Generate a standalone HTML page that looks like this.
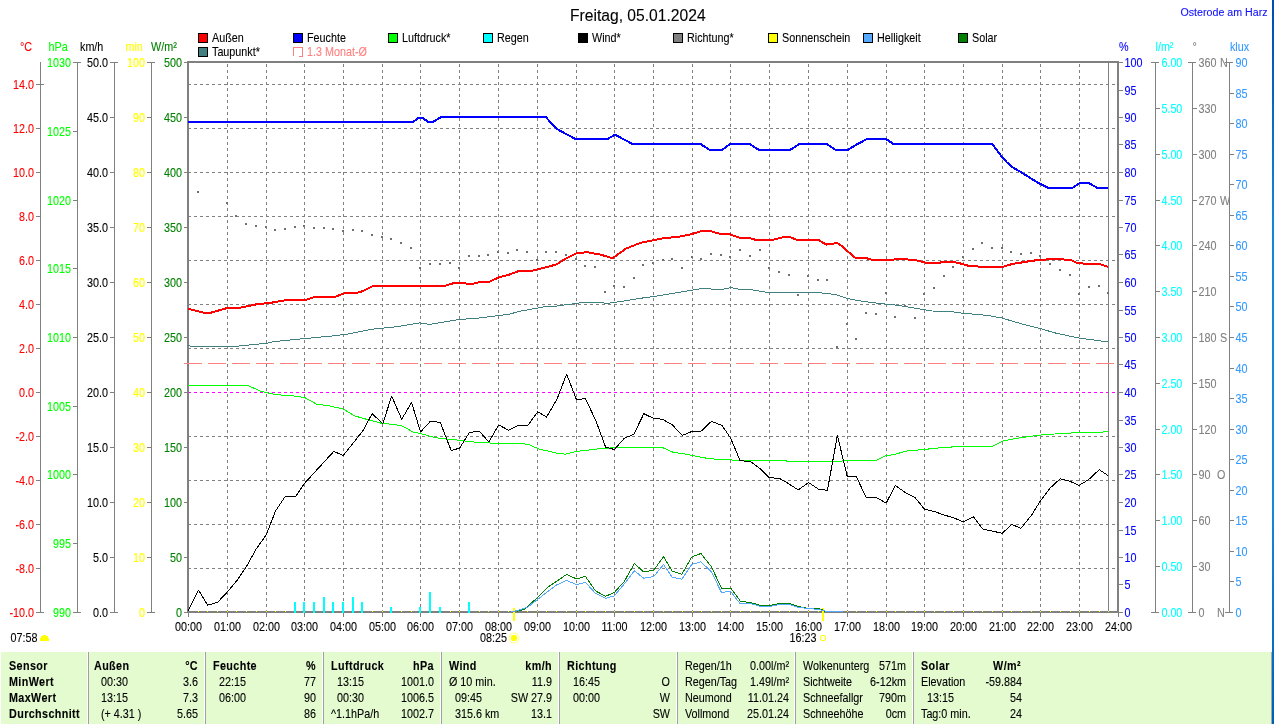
<!DOCTYPE html>
<html><head><meta charset="utf-8"><style>
html,body{margin:0;padding:0;background:#fff;width:1274px;height:724px;overflow:hidden}
svg{display:block;will-change:transform;font-family:"Liberation Sans",sans-serif}
</style></head><body>
<svg width="1274" height="724" viewBox="0 0 1274 724">
<rect width="1274" height="724" fill="#fff"/>
<text x="582.82" y="20.9" transform="scale(0.978,1)" font-size="16" fill="#000" stroke="#000" stroke-width="0.1">Freitag, 05.01.2024</text>
<text x="1217.01" y="15.6" transform="scale(0.97,1)" font-size="11" fill="#1010ff" stroke="#1010ff" stroke-width="0.1">Osterode am Harz</text>
<defs><linearGradient id="bb" x1="0" y1="0" x2="0" y2="1"><stop offset="0" stop-color="#004bb0"/><stop offset="0.3" stop-color="#1585d5"/><stop offset="0.7" stop-color="#1888d8"/><stop offset="1" stop-color="#005ebb"/></linearGradient></defs>
<rect x="1272" y="0" width="2" height="724" fill="url(#bb)"/>
<rect x="198" y="33" width="10" height="10" fill="#000"/>
<rect x="199" y="34" width="8" height="8" fill="#ff0000"/>
<text x="245.65" y="42" transform="scale(0.863,1)" font-size="12.5" fill="#000" stroke="#000" stroke-width="0.1">Außen</text>
<rect x="293" y="33" width="10" height="10" fill="#000"/>
<rect x="294" y="34" width="8" height="8" fill="#0000ff"/>
<text x="355.74" y="42" transform="scale(0.863,1)" font-size="12.5" fill="#000" stroke="#000" stroke-width="0.1">Feuchte</text>
<rect x="388" y="33" width="10" height="10" fill="#000"/>
<rect x="389" y="34" width="8" height="8" fill="#00ff00"/>
<text x="465.82" y="42" transform="scale(0.863,1)" font-size="12.5" fill="#000" stroke="#000" stroke-width="0.1">Luftdruck*</text>
<rect x="483" y="33" width="10" height="10" fill="#000"/>
<rect x="484" y="34" width="8" height="8" fill="#00ffff"/>
<text x="575.90" y="42" transform="scale(0.863,1)" font-size="12.5" fill="#000" stroke="#000" stroke-width="0.1">Regen</text>
<rect x="578" y="33" width="10" height="10" fill="#000"/>
<rect x="579" y="34" width="8" height="8" fill="#000000"/>
<text x="685.98" y="42" transform="scale(0.863,1)" font-size="12.5" fill="#000" stroke="#000" stroke-width="0.1">Wind*</text>
<rect x="673" y="33" width="10" height="10" fill="#000"/>
<rect x="674" y="34" width="8" height="8" fill="#808080"/>
<text x="796.06" y="42" transform="scale(0.863,1)" font-size="12.5" fill="#000" stroke="#000" stroke-width="0.1">Richtung*</text>
<rect x="768" y="33" width="10" height="10" fill="#000"/>
<rect x="769" y="34" width="8" height="8" fill="#ffff00"/>
<text x="906.14" y="42" transform="scale(0.863,1)" font-size="12.5" fill="#000" stroke="#000" stroke-width="0.1">Sonnenschein</text>
<rect x="863" y="33" width="10" height="10" fill="#000"/>
<rect x="864" y="34" width="8" height="8" fill="#55aaff"/>
<text x="1016.22" y="42" transform="scale(0.863,1)" font-size="12.5" fill="#000" stroke="#000" stroke-width="0.1">Helligkeit</text>
<rect x="958" y="33" width="10" height="10" fill="#000"/>
<rect x="959" y="34" width="8" height="8" fill="#008000"/>
<text x="1126.30" y="42" transform="scale(0.863,1)" font-size="12.5" fill="#000" stroke="#000" stroke-width="0.1">Solar</text>
<rect x="198" y="47" width="10" height="10" fill="#000"/>
<rect x="199" y="48" width="8" height="8" fill="#408080"/>
<text x="245.65" y="56" transform="scale(0.863,1)" font-size="12.5" fill="#000" stroke="#000" stroke-width="0.1">Taupunkt*</text>
<path d="M293.5 47 V56 M293 47.5 H303 M302.5 47 V57 M299 56.5 H303" fill="none" stroke="#ff8080" stroke-width="1" shape-rendering="crispEdges"/>
<text x="355.74" y="56" transform="scale(0.863,1)" font-size="12.5" fill="#ff8080" stroke="#ff8080" stroke-width="0.1">1.3 Monat-Ø</text>
<text x="23.17" y="51" transform="scale(0.863,1)" font-size="12.5" fill="#ff0000" stroke="#ff0000" stroke-width="0.1">°C</text>
<text x="56.20" y="51" transform="scale(0.863,1)" font-size="12.5" fill="#00ff00" stroke="#00ff00" stroke-width="0.1">hPa</text>
<text x="92.70" y="51" transform="scale(0.863,1)" font-size="12.5" fill="#000" stroke="#000" stroke-width="0.1">km/h</text>
<text x="145.42" y="51" transform="scale(0.863,1)" font-size="12.5" fill="#ffff00" stroke="#ffff00" stroke-width="0.1">min</text>
<text x="174.97" y="51" transform="scale(0.863,1)" font-size="12.5" fill="#008000" stroke="#008000" stroke-width="0.1">W/m²</text>
<text x="1296.64" y="51" transform="scale(0.863,1)" font-size="12.5" fill="#0000ff" stroke="#0000ff" stroke-width="0.1">%</text>
<text x="1338.93" y="51" transform="scale(0.863,1)" font-size="12.5" fill="#00ffff" stroke="#00ffff" stroke-width="0.1">l/m²</text>
<text x="1381.81" y="51" transform="scale(0.863,1)" font-size="12.5" fill="#808080" stroke="#808080" stroke-width="0.1">°</text>
<text x="1425.26" y="51" transform="scale(0.863,1)" font-size="12.5" fill="#3399ff" stroke="#3399ff" stroke-width="0.1">klux</text>
<rect x="40" y="62" width="1" height="551" fill="#808080"/>
<rect x="36" y="84" width="8" height="1" fill="#808080"/>
<text x="39.40" y="88.6" transform="scale(0.863,1)" font-size="12.5" fill="#ff0000" stroke="#ff0000" stroke-width="0.1" text-anchor="end">14.0</text>
<rect x="36" y="128" width="4" height="1" fill="#808080"/>
<text x="39.40" y="132.6" transform="scale(0.863,1)" font-size="12.5" fill="#ff0000" stroke="#ff0000" stroke-width="0.1" text-anchor="end">12.0</text>
<rect x="36" y="172" width="4" height="1" fill="#808080"/>
<text x="39.40" y="176.6" transform="scale(0.863,1)" font-size="12.5" fill="#ff0000" stroke="#ff0000" stroke-width="0.1" text-anchor="end">10.0</text>
<rect x="36" y="216" width="4" height="1" fill="#808080"/>
<text x="39.40" y="220.6" transform="scale(0.863,1)" font-size="12.5" fill="#ff0000" stroke="#ff0000" stroke-width="0.1" text-anchor="end">8.0</text>
<rect x="36" y="260" width="4" height="1" fill="#808080"/>
<text x="39.40" y="264.6" transform="scale(0.863,1)" font-size="12.5" fill="#ff0000" stroke="#ff0000" stroke-width="0.1" text-anchor="end">6.0</text>
<rect x="36" y="304" width="4" height="1" fill="#808080"/>
<text x="39.40" y="308.6" transform="scale(0.863,1)" font-size="12.5" fill="#ff0000" stroke="#ff0000" stroke-width="0.1" text-anchor="end">4.0</text>
<rect x="36" y="348" width="4" height="1" fill="#808080"/>
<text x="39.40" y="352.6" transform="scale(0.863,1)" font-size="12.5" fill="#ff0000" stroke="#ff0000" stroke-width="0.1" text-anchor="end">2.0</text>
<rect x="36" y="392" width="4" height="1" fill="#808080"/>
<text x="39.40" y="396.6" transform="scale(0.863,1)" font-size="12.5" fill="#ff0000" stroke="#ff0000" stroke-width="0.1" text-anchor="end">0.0</text>
<rect x="36" y="436" width="4" height="1" fill="#808080"/>
<text x="39.40" y="440.6" transform="scale(0.863,1)" font-size="12.5" fill="#ff0000" stroke="#ff0000" stroke-width="0.1" text-anchor="end">-2.0</text>
<rect x="36" y="480" width="4" height="1" fill="#808080"/>
<text x="39.40" y="484.6" transform="scale(0.863,1)" font-size="12.5" fill="#ff0000" stroke="#ff0000" stroke-width="0.1" text-anchor="end">-4.0</text>
<rect x="36" y="524" width="4" height="1" fill="#808080"/>
<text x="39.40" y="528.6" transform="scale(0.863,1)" font-size="12.5" fill="#ff0000" stroke="#ff0000" stroke-width="0.1" text-anchor="end">-6.0</text>
<rect x="36" y="568" width="4" height="1" fill="#808080"/>
<text x="39.40" y="572.6" transform="scale(0.863,1)" font-size="12.5" fill="#ff0000" stroke="#ff0000" stroke-width="0.1" text-anchor="end">-8.0</text>
<rect x="36" y="612" width="8" height="1" fill="#808080"/>
<text x="39.40" y="616.6" transform="scale(0.863,1)" font-size="12.5" fill="#ff0000" stroke="#ff0000" stroke-width="0.1" text-anchor="end">-10.0</text>
<rect x="77" y="62" width="1" height="551" fill="#808080"/>
<rect x="73" y="62" width="8" height="1" fill="#808080"/>
<text x="82.27" y="66.6" transform="scale(0.863,1)" font-size="12.5" fill="#00ff00" stroke="#00ff00" stroke-width="0.1" text-anchor="end">1030</text>
<rect x="73" y="131" width="4" height="1" fill="#808080"/>
<text x="82.27" y="135.6" transform="scale(0.863,1)" font-size="12.5" fill="#00ff00" stroke="#00ff00" stroke-width="0.1" text-anchor="end">1025</text>
<rect x="73" y="200" width="4" height="1" fill="#808080"/>
<text x="82.27" y="204.6" transform="scale(0.863,1)" font-size="12.5" fill="#00ff00" stroke="#00ff00" stroke-width="0.1" text-anchor="end">1020</text>
<rect x="73" y="268" width="4" height="1" fill="#808080"/>
<text x="82.27" y="272.6" transform="scale(0.863,1)" font-size="12.5" fill="#00ff00" stroke="#00ff00" stroke-width="0.1" text-anchor="end">1015</text>
<rect x="73" y="337" width="4" height="1" fill="#808080"/>
<text x="82.27" y="341.6" transform="scale(0.863,1)" font-size="12.5" fill="#00ff00" stroke="#00ff00" stroke-width="0.1" text-anchor="end">1010</text>
<rect x="73" y="406" width="4" height="1" fill="#808080"/>
<text x="82.27" y="410.6" transform="scale(0.863,1)" font-size="12.5" fill="#00ff00" stroke="#00ff00" stroke-width="0.1" text-anchor="end">1005</text>
<rect x="73" y="474" width="4" height="1" fill="#808080"/>
<text x="82.27" y="478.6" transform="scale(0.863,1)" font-size="12.5" fill="#00ff00" stroke="#00ff00" stroke-width="0.1" text-anchor="end">1000</text>
<rect x="73" y="543" width="4" height="1" fill="#808080"/>
<text x="82.27" y="547.6" transform="scale(0.863,1)" font-size="12.5" fill="#00ff00" stroke="#00ff00" stroke-width="0.1" text-anchor="end">995</text>
<rect x="73" y="612" width="8" height="1" fill="#808080"/>
<text x="82.27" y="616.6" transform="scale(0.863,1)" font-size="12.5" fill="#00ff00" stroke="#00ff00" stroke-width="0.1" text-anchor="end">990</text>
<rect x="114" y="62" width="1" height="551" fill="#808080"/>
<rect x="110" y="62" width="8" height="1" fill="#808080"/>
<text x="125.14" y="66.6" transform="scale(0.863,1)" font-size="12.5" fill="#000000" stroke="#000000" stroke-width="0.1" text-anchor="end">50.0</text>
<rect x="110" y="117" width="4" height="1" fill="#808080"/>
<text x="125.14" y="121.6" transform="scale(0.863,1)" font-size="12.5" fill="#000000" stroke="#000000" stroke-width="0.1" text-anchor="end">45.0</text>
<rect x="110" y="172" width="4" height="1" fill="#808080"/>
<text x="125.14" y="176.6" transform="scale(0.863,1)" font-size="12.5" fill="#000000" stroke="#000000" stroke-width="0.1" text-anchor="end">40.0</text>
<rect x="110" y="227" width="4" height="1" fill="#808080"/>
<text x="125.14" y="231.6" transform="scale(0.863,1)" font-size="12.5" fill="#000000" stroke="#000000" stroke-width="0.1" text-anchor="end">35.0</text>
<rect x="110" y="282" width="4" height="1" fill="#808080"/>
<text x="125.14" y="286.6" transform="scale(0.863,1)" font-size="12.5" fill="#000000" stroke="#000000" stroke-width="0.1" text-anchor="end">30.0</text>
<rect x="110" y="337" width="4" height="1" fill="#808080"/>
<text x="125.14" y="341.6" transform="scale(0.863,1)" font-size="12.5" fill="#000000" stroke="#000000" stroke-width="0.1" text-anchor="end">25.0</text>
<rect x="110" y="392" width="4" height="1" fill="#808080"/>
<text x="125.14" y="396.6" transform="scale(0.863,1)" font-size="12.5" fill="#000000" stroke="#000000" stroke-width="0.1" text-anchor="end">20.0</text>
<rect x="110" y="447" width="4" height="1" fill="#808080"/>
<text x="125.14" y="451.6" transform="scale(0.863,1)" font-size="12.5" fill="#000000" stroke="#000000" stroke-width="0.1" text-anchor="end">15.0</text>
<rect x="110" y="502" width="4" height="1" fill="#808080"/>
<text x="125.14" y="506.6" transform="scale(0.863,1)" font-size="12.5" fill="#000000" stroke="#000000" stroke-width="0.1" text-anchor="end">10.0</text>
<rect x="110" y="557" width="4" height="1" fill="#808080"/>
<text x="125.14" y="561.6" transform="scale(0.863,1)" font-size="12.5" fill="#000000" stroke="#000000" stroke-width="0.1" text-anchor="end">5.0</text>
<rect x="110" y="612" width="8" height="1" fill="#808080"/>
<text x="125.14" y="616.6" transform="scale(0.863,1)" font-size="12.5" fill="#000000" stroke="#000000" stroke-width="0.1" text-anchor="end">0.0</text>
<rect x="151" y="62" width="1" height="551" fill="#808080"/>
<rect x="147" y="62" width="8" height="1" fill="#808080"/>
<text x="168.02" y="66.6" transform="scale(0.863,1)" font-size="12.5" fill="#ffff00" stroke="#ffff00" stroke-width="0.1" text-anchor="end">100</text>
<rect x="147" y="117" width="4" height="1" fill="#808080"/>
<text x="168.02" y="121.6" transform="scale(0.863,1)" font-size="12.5" fill="#ffff00" stroke="#ffff00" stroke-width="0.1" text-anchor="end">90</text>
<rect x="147" y="172" width="4" height="1" fill="#808080"/>
<text x="168.02" y="176.6" transform="scale(0.863,1)" font-size="12.5" fill="#ffff00" stroke="#ffff00" stroke-width="0.1" text-anchor="end">80</text>
<rect x="147" y="227" width="4" height="1" fill="#808080"/>
<text x="168.02" y="231.6" transform="scale(0.863,1)" font-size="12.5" fill="#ffff00" stroke="#ffff00" stroke-width="0.1" text-anchor="end">70</text>
<rect x="147" y="282" width="4" height="1" fill="#808080"/>
<text x="168.02" y="286.6" transform="scale(0.863,1)" font-size="12.5" fill="#ffff00" stroke="#ffff00" stroke-width="0.1" text-anchor="end">60</text>
<rect x="147" y="337" width="4" height="1" fill="#808080"/>
<text x="168.02" y="341.6" transform="scale(0.863,1)" font-size="12.5" fill="#ffff00" stroke="#ffff00" stroke-width="0.1" text-anchor="end">50</text>
<rect x="147" y="392" width="4" height="1" fill="#808080"/>
<text x="168.02" y="396.6" transform="scale(0.863,1)" font-size="12.5" fill="#ffff00" stroke="#ffff00" stroke-width="0.1" text-anchor="end">40</text>
<rect x="147" y="447" width="4" height="1" fill="#808080"/>
<text x="168.02" y="451.6" transform="scale(0.863,1)" font-size="12.5" fill="#ffff00" stroke="#ffff00" stroke-width="0.1" text-anchor="end">30</text>
<rect x="147" y="502" width="4" height="1" fill="#808080"/>
<text x="168.02" y="506.6" transform="scale(0.863,1)" font-size="12.5" fill="#ffff00" stroke="#ffff00" stroke-width="0.1" text-anchor="end">20</text>
<rect x="147" y="557" width="4" height="1" fill="#808080"/>
<text x="168.02" y="561.6" transform="scale(0.863,1)" font-size="12.5" fill="#ffff00" stroke="#ffff00" stroke-width="0.1" text-anchor="end">10</text>
<rect x="147" y="612" width="8" height="1" fill="#808080"/>
<text x="168.02" y="616.6" transform="scale(0.863,1)" font-size="12.5" fill="#ffff00" stroke="#ffff00" stroke-width="0.1" text-anchor="end">0</text>
<rect x="184" y="62" width="4" height="1" fill="#808080"/>
<text x="210.89" y="66.6" transform="scale(0.863,1)" font-size="12.5" fill="#008000" stroke="#008000" stroke-width="0.1" text-anchor="end">500</text>
<rect x="184" y="117" width="4" height="1" fill="#808080"/>
<text x="210.89" y="121.6" transform="scale(0.863,1)" font-size="12.5" fill="#008000" stroke="#008000" stroke-width="0.1" text-anchor="end">450</text>
<rect x="184" y="172" width="4" height="1" fill="#808080"/>
<text x="210.89" y="176.6" transform="scale(0.863,1)" font-size="12.5" fill="#008000" stroke="#008000" stroke-width="0.1" text-anchor="end">400</text>
<rect x="184" y="227" width="4" height="1" fill="#808080"/>
<text x="210.89" y="231.6" transform="scale(0.863,1)" font-size="12.5" fill="#008000" stroke="#008000" stroke-width="0.1" text-anchor="end">350</text>
<rect x="184" y="282" width="4" height="1" fill="#808080"/>
<text x="210.89" y="286.6" transform="scale(0.863,1)" font-size="12.5" fill="#008000" stroke="#008000" stroke-width="0.1" text-anchor="end">300</text>
<rect x="184" y="337" width="4" height="1" fill="#808080"/>
<text x="210.89" y="341.6" transform="scale(0.863,1)" font-size="12.5" fill="#008000" stroke="#008000" stroke-width="0.1" text-anchor="end">250</text>
<rect x="184" y="392" width="4" height="1" fill="#808080"/>
<text x="210.89" y="396.6" transform="scale(0.863,1)" font-size="12.5" fill="#008000" stroke="#008000" stroke-width="0.1" text-anchor="end">200</text>
<rect x="184" y="447" width="4" height="1" fill="#808080"/>
<text x="210.89" y="451.6" transform="scale(0.863,1)" font-size="12.5" fill="#008000" stroke="#008000" stroke-width="0.1" text-anchor="end">150</text>
<rect x="184" y="502" width="4" height="1" fill="#808080"/>
<text x="210.89" y="506.6" transform="scale(0.863,1)" font-size="12.5" fill="#008000" stroke="#008000" stroke-width="0.1" text-anchor="end">100</text>
<rect x="184" y="557" width="4" height="1" fill="#808080"/>
<text x="210.89" y="561.6" transform="scale(0.863,1)" font-size="12.5" fill="#008000" stroke="#008000" stroke-width="0.1" text-anchor="end">50</text>
<rect x="184" y="612" width="4" height="1" fill="#808080"/>
<text x="210.89" y="616.6" transform="scale(0.863,1)" font-size="12.5" fill="#008000" stroke="#008000" stroke-width="0.1" text-anchor="end">0</text>
<path d="M188 84.5H1117M188 128.5H1117M188 172.5H1117M188 216.5H1117M188 260.5H1117M188 304.5H1117M188 348.5H1117M188 436.5H1117M188 480.5H1117M188 524.5H1117M188 568.5H1117M227.5 64V611M266.5 64V611M304.5 64V611M343.5 64V611M382.5 64V611M420.5 64V611M459.5 64V611M498.5 64V611M537.5 64V611M576.5 64V611M614.5 64V611M653.5 64V611M692.5 64V611M730.5 64V611M769.5 64V611M808.5 64V611M847.5 64V611M886.5 64V611M924.5 64V611M963.5 64V611M1002.5 64V611M1040.5 64V611M1079.5 64V611" stroke="#808080" stroke-width="1" fill="none" stroke-dasharray="3 3" shape-rendering="crispEdges"/>
<path d="M188 392.5H1117" stroke="#ff00ff" stroke-width="1" fill="none" stroke-dasharray="3 3" shape-rendering="crispEdges"/>
<rect x="1108" y="63" width="1" height="548" fill="#808080"/>
<rect x="187" y="61" width="932" height="2" fill="#808080"/>
<rect x="187" y="611" width="932" height="2" fill="#808080"/>
<rect x="187" y="61" width="2" height="552" fill="#808080"/>
<rect x="1117" y="61" width="2" height="552" fill="#808080"/>
<line x1="184" y1="363.5" x2="1117" y2="363.5" stroke="#ff8080" stroke-width="1" stroke-dasharray="18 6" shape-rendering="crispEdges"/>
<rect x="513" y="608" width="2" height="13" fill="#ffff00"/>
<rect x="822" y="608" width="2" height="13" fill="#ffff00"/>
<path d="M198 611h1v1h-1zM207 611h1v1h-1zM217 611h1v1h-1zM227 611h1v1h-1zM236 611h1v1h-1zM246 611h1v1h-1zM256 611h1v1h-1zM266 611h1v1h-1zM275 611h1v1h-1zM285 611h1v1h-1zM295 611h1v1h-1zM304 611h1v1h-1zM314 611h1v1h-1zM324 611h1v1h-1zM333 611h1v1h-1zM343 611h1v1h-1zM353 611h1v1h-1zM362 611h1v1h-1zM372 611h1v1h-1zM382 611h1v1h-1zM391 611h1v1h-1zM401 611h1v1h-1zM411 611h1v1h-1zM420 611h1v1h-1zM430 611h1v1h-1zM440 611h1v1h-1zM450 611h1v1h-1zM459 611h1v1h-1zM469 611h1v1h-1zM479 611h1v1h-1zM488 611h1v1h-1zM498 611h1v1h-1zM508 611h1v1h-1zM517 611h1v1h-1zM527 611h1v1h-1zM537 611h1v1h-1zM546 611h1v1h-1zM556 611h1v1h-1zM566 611h1v1h-1zM576 611h1v1h-1zM585 611h1v1h-1zM595 611h1v1h-1zM605 611h1v1h-1zM614 611h1v1h-1zM624 611h1v1h-1zM634 611h1v1h-1zM643 611h1v1h-1zM653 611h1v1h-1zM663 611h1v1h-1zM672 611h1v1h-1zM682 611h1v1h-1zM692 611h1v1h-1zM701 611h1v1h-1zM711 611h1v1h-1zM721 611h1v1h-1zM730 611h1v1h-1zM740 611h1v1h-1zM750 611h1v1h-1zM760 611h1v1h-1zM769 611h1v1h-1zM779 611h1v1h-1zM789 611h1v1h-1zM798 611h1v1h-1zM808 611h1v1h-1zM818 611h1v1h-1zM827 611h1v1h-1zM837 611h1v1h-1zM847 611h1v1h-1zM856 611h1v1h-1zM866 611h1v1h-1zM876 611h1v1h-1zM886 611h1v1h-1zM895 611h1v1h-1zM905 611h1v1h-1zM915 611h1v1h-1zM924 611h1v1h-1zM934 611h1v1h-1zM944 611h1v1h-1zM953 611h1v1h-1zM963 611h1v1h-1zM973 611h1v1h-1zM982 611h1v1h-1zM992 611h1v1h-1zM1002 611h1v1h-1zM1011 611h1v1h-1zM1021 611h1v1h-1zM1031 611h1v1h-1zM1040 611h1v1h-1zM1050 611h1v1h-1zM1060 611h1v1h-1zM1070 611h1v1h-1zM1079 611h1v1h-1zM1089 611h1v1h-1zM1099 611h1v1h-1zM1108 611h1v1h-1z" fill="#ffff00"/>
<rect x="294" y="602" width="2" height="11" fill="#00ffff"/>
<rect x="303" y="602" width="2" height="11" fill="#00ffff"/>
<rect x="313" y="602" width="2" height="11" fill="#00ffff"/>
<rect x="323" y="597" width="2" height="16" fill="#00ffff"/>
<rect x="332" y="602" width="2" height="11" fill="#00ffff"/>
<rect x="342" y="602" width="2" height="11" fill="#00ffff"/>
<rect x="352" y="597" width="2" height="16" fill="#00ffff"/>
<rect x="361" y="602" width="2" height="11" fill="#00ffff"/>
<rect x="390" y="607" width="2" height="6" fill="#00ffff"/>
<rect x="419" y="607" width="2" height="6" fill="#00ffff"/>
<rect x="429" y="592" width="2" height="21" fill="#00ffff"/>
<rect x="439" y="607" width="2" height="6" fill="#00ffff"/>
<rect x="468" y="602" width="2" height="11" fill="#00ffff"/>
<polyline points="516.6,611.5 523.7,609.5 527.6,606.8 536.4,598.4 547.1,587.7 556.5,581.4 566.5,574.5 576.6,578.9 585.4,576.4 595.5,590.9 605.5,596.3 614.3,592.5 624.3,581.4 634.4,563.6 643.8,572.0 653.9,570.1 663.5,556.6 672.2,571.1 681.8,574.4 691.7,557.0 700.9,553.5 711.5,566.9 721.4,588.1 731.0,588.5 740.0,600.5" fill="none" stroke="#008000" stroke-width="1" stroke-linejoin="round" shape-rendering="crispEdges"/>
<path d="M740 601.5H746M746 602.5H752M752 603.5H756M756 604.5H759M759 605.5H772M772 604.5H777M777 603.5H791M791 604.5H794M794 605.5H797M797 606.5H801M801 607.5H806M806 608.5H820M820 609.5H823M823 610.5H824M824 611.5H825" stroke="#008000" stroke-width="1" fill="none" shape-rendering="crispEdges"/>
<polyline points="511.3,611.7 518.7,610.2 527.6,607.2 537.7,599.3 547.1,592.1 556.5,585.0 566.5,580.5 576.6,584.6 585.4,582.3 595.5,593.4 605.5,598.4 614.3,595.9 624.3,583.9 634.4,570.8 643.8,578.3 653.9,576.4 663.5,564.5 672.2,577.2 681.8,579.2 691.7,564.5 700.9,561.7 711.5,572.1 721.4,592.3 730.6,591.5 740.0,603.5" fill="none" stroke="#55aaff" stroke-width="1" stroke-linejoin="round" shape-rendering="crispEdges"/>
<path d="M740 603.5H752M752 604.5H756M756 605.5H759M759 606.5H772M772 605.5H777M777 604.5H791M791 605.5H794M794 606.5H797M797 607.5H804M804 608.5H814M814 609.5H821M821 610.5H825M825 611.5H843" stroke="#55aaff" stroke-width="1" fill="none" shape-rendering="crispEdges"/>
<polyline points="188.0,385.2 247.2,385.2 260.4,391.1 271.7,393.9 283.0,395.2 292.4,395.8 304.6,397.5 316.9,404.3 328.2,405.6 343.3,409.0 354.6,415.9 365.9,419.1 380.9,423.1 392.2,424.4 401.7,425.7 413.0,432.0 424.3,434.4 429.4,436.3 438.8,438.2 457.7,440.1 476.5,442.3 495.4,443.3 522.7,443.5 529.3,444.8 538.7,448.9 555.6,452.9 565.1,454.2 576.4,451.4 585.8,450.4 600.9,448.5 617.8,447.6 662.5,447.5 672.9,452.2 683.3,453.7 700.2,457.1 707.8,458.4 717.2,459.3 737.9,460.3 785.0,460.3 786.9,461.2 841.5,461.2 843.4,460.3 876.4,460.3 885.8,455.6 894.4,454.6 905.7,451.1 922.7,449.6 941.5,447.7 960.4,446.4 992.4,446.2 1002.7,441.1 1016.9,438.3 1026.3,436.9 1045.1,434.5 1064.0,433.5 1077.2,432.6 1101.7,432.2 1108.2,431.3" fill="none" stroke="#00ff00" stroke-width="1" stroke-linejoin="round" shape-rendering="crispEdges"/>
<polyline points="188.0,611.2 198.6,590.2 207.6,605.2 217.7,602.2 227.1,592.2 237.5,579.8 246.7,566.2 256.1,549.1 266.1,535.1 275.5,511.1 285.2,496.4 295.2,497.0 304.8,483.0 333.8,451.4 343.3,455.5 363.0,430.6 372.1,413.7 382.8,423.5 391.7,396.2 401.7,419.3 411.6,402.4 420.5,432.0 430.4,421.2 440.3,422.5 451.1,450.4 459.6,448.2 469.4,432.5 479.3,431.2 488.8,442.0 498.7,425.0 508.5,430.1 518.0,425.6 527.8,425.4 537.7,411.8 546.6,417.1 557.2,398.6 566.6,374.1 576.4,399.6 585.4,398.6 596.1,421.2 605.6,447.2 614.4,449.5 624.4,438.2 633.8,434.4 643.8,413.7 653.6,418.4 662.5,419.2 672.3,424.9 682.3,435.4 692.7,431.1 701.2,431.1 711.5,421.3 721.9,425.4 730.4,437.7 740.2,460.9 750.1,461.2 759.6,468.2 769.5,477.8 779.0,478.2 788.8,483.8 798.2,490.0 808.5,482.5 818.5,489.1 827.4,490.4 837.4,435.4 847.2,476.3 856.2,476.3 866.4,498.0 875.8,497.4 886.2,503.0 895.4,485.4 904.8,492.3 915.1,497.6 924.6,509.3 934.9,511.7 944.3,515.1 953.8,517.8 963.2,522.1 973.5,516.8 983.0,529.3 992.4,531.0 1002.2,533.4 1011.6,524.4 1021.0,528.3 1032.0,514.6 1040.4,500.8 1050.4,487.8 1060.2,478.8 1069.6,481.2 1079.0,485.4 1088.5,479.7 1099.2,469.7 1107.9,475.4" fill="none" stroke="#000000" stroke-width="1" stroke-linejoin="round" shape-rendering="crispEdges"/>
<polyline points="188.0,345.6 194.4,346.7 232.0,346.7 248.4,345.1 267.2,343.2 274.2,341.6 302.4,338.8 335.3,335.7 349.4,333.8 372.9,329.1 396.4,326.8 419.9,322.8 429.4,324.4 459.9,319.3 474.0,318.6 497.5,315.7 509.2,314.3 518.6,311.5 544.5,306.8 556.2,306.1 582.0,302.6 598.5,302.6 607.9,303.3 624.3,301.0 643.1,297.9 655.0,296.3 690.2,290.4 702.0,288.5 713.7,289.2 723.1,289.2 730.6,287.6 739.5,289.2 751.3,289.7 768.9,292.7 819.4,292.7 835.8,294.6 847.6,298.6 857.0,300.5 878.1,303.3 885.0,304.0 896.7,305.2 932.0,311.0 950.8,311.5 962.5,313.2 988.3,315.5 1001.3,317.9 1021.2,323.7 1040.0,328.4 1054.1,332.7 1077.6,337.8 1108.1,342.0" fill="none" stroke="#408080" stroke-width="1" stroke-linejoin="round" shape-rendering="crispEdges"/>
<polyline points="188.0,308.7 194.4,310.3 203.8,312.7 210.8,312.7 227.3,308.0 241.4,307.5 255.5,304.5 271.9,302.6 286.0,300.2 306.0,299.8 315.3,296.7 335.3,296.7 344.7,293.2 357.0,292.9 362.6,291.2 373.0,286.0 444.6,286.0 455.2,282.6 462.3,282.6 467.0,283.8 472.8,283.8 481.0,281.7 489.3,281.7 499.8,277.0 509.2,274.6 518.6,271.1 530.4,271.1 542.1,268.3 556.2,264.5 565.6,258.7 577.4,252.8 587.9,252.3 600.8,254.7 610.2,257.5 613.8,257.5 625.5,248.8 640.8,242.7 654.9,239.9 664.4,238.0 677.3,237.1 690.2,234.5 702.0,231.0 710.2,231.0 718.4,233.5 729.0,234.0 738.4,237.5 749.0,238.0 756.0,239.9 772.4,239.9 781.8,237.5 790.0,237.0 797.1,239.9 818.2,239.9 826.4,244.6 831.1,244.1 837.0,242.9 842.9,246.9 854.6,257.5 866.4,258.2 872.2,259.8 889.8,259.8 899.1,259.1 914.4,259.8 928.4,263.4 937.8,263.4 941.4,262.2 951.9,261.7 960.2,263.4 970.7,266.4 1002.4,266.9 1011.8,264.1 1030.6,261.0 1040.0,259.8 1054.1,259.1 1070.5,259.8 1077.6,263.4 1098.7,263.8 1108.1,266.9" fill="none" stroke="#ff0000" stroke-width="2" stroke-linejoin="round" shape-rendering="crispEdges"/>
<polyline points="188.0,122.0 413.0,122.0 418.4,118.0 422.7,118.0 428.3,122.0 432.7,122.0 441.2,117.0 545.8,117.0 556.0,128.4 566.0,134.0 575.5,139.0 607.4,139.0 615.0,134.7 632.5,144.0 700.5,144.0 709.6,150.0 722.0,150.0 730.0,144.0 749.8,144.0 759.0,150.0 790.0,150.0 799.3,144.0 827.0,144.0 835.7,150.0 847.8,150.0 855.8,145.0 867.0,139.0 886.0,139.0 893.5,144.0 992.3,144.0 999.8,154.2 1006.4,161.9 1011.9,166.8 1024.0,174.0 1037.0,182.2 1048.0,187.7 1072.3,188.0 1080.0,183.0 1088.8,183.0 1097.6,188.0 1108.0,188.0" fill="none" stroke="#0000ff" stroke-width="2" stroke-linejoin="round" shape-rendering="crispEdges"/>
<path d="M197 191h2v2h-2zM226 202h2v2h-2zM235 215h2v2h-2zM245 223h2v2h-2zM255 225h2v2h-2zM265 226h2v2h-2zM274 229h2v2h-2zM284 228h2v2h-2zM294 226h2v2h-2zM303 225h2v2h-2zM313 227h2v2h-2zM323 227h2v2h-2zM332 228h2v2h-2zM342 230h2v2h-2zM352 229h2v2h-2zM361 230h2v2h-2zM371 234h2v2h-2zM381 236h2v2h-2zM390 238h2v2h-2zM400 242h2v2h-2zM410 247h2v2h-2zM419 267h2v2h-2zM429 263h2v2h-2zM439 263h2v2h-2zM449 262h2v2h-2zM458 267h2v2h-2zM468 255h2v2h-2zM478 255h2v2h-2zM487 254h2v2h-2zM497 251h2v2h-2zM507 252h2v2h-2zM516 249h2v2h-2zM526 251h2v2h-2zM536 259h2v2h-2zM545 251h2v2h-2zM555 251h2v2h-2zM565 254h2v2h-2zM575 258h2v2h-2zM584 265h2v2h-2zM594 266h2v2h-2zM604 291h2v2h-2zM613 285h2v2h-2zM623 286h2v2h-2zM633 277h2v2h-2zM642 264h2v2h-2zM652 262h2v2h-2zM662 259h2v2h-2zM671 258h2v2h-2zM681 267h2v2h-2zM691 256h2v2h-2zM700 258h2v2h-2zM710 253h2v2h-2zM720 254h2v2h-2zM729 256h2v2h-2zM739 249h2v2h-2zM749 255h2v2h-2zM759 249h2v2h-2zM768 267h2v2h-2zM778 271h2v2h-2zM788 274h2v2h-2zM797 294h2v2h-2zM807 275h2v2h-2zM817 279h2v2h-2zM826 279h2v2h-2zM836 346h2v2h-2zM846 323h2v2h-2zM855 338h2v2h-2zM865 312h2v2h-2zM875 313h2v2h-2zM885 292h2v2h-2zM894 316h2v2h-2zM904 305h2v2h-2zM914 317h2v2h-2zM923 293h2v2h-2zM933 287h2v2h-2zM943 275h2v2h-2zM952 266h2v2h-2zM962 256h2v2h-2zM972 248h2v2h-2zM981 242h2v2h-2zM991 247h2v2h-2zM1001 247h2v2h-2zM1010 251h2v2h-2zM1020 253h2v2h-2zM1030 252h2v2h-2zM1039 255h2v2h-2zM1049 263h2v2h-2zM1059 269h2v2h-2zM1069 274h2v2h-2zM1078 293h2v2h-2zM1088 286h2v2h-2zM1098 285h2v2h-2zM1107 292h2v2h-2z" fill="#707070"/>
<rect x="1119" y="62" width="4" height="1" fill="#808080"/>
<text x="1303.01" y="66.6" transform="scale(0.863,1)" font-size="12.5" fill="#0000ff" stroke="#0000ff" stroke-width="0.1">100</text>
<rect x="1119" y="90" width="4" height="1" fill="#808080"/>
<text x="1303.01" y="94.6" transform="scale(0.863,1)" font-size="12.5" fill="#0000ff" stroke="#0000ff" stroke-width="0.1">95</text>
<rect x="1119" y="117" width="4" height="1" fill="#808080"/>
<text x="1303.01" y="121.6" transform="scale(0.863,1)" font-size="12.5" fill="#0000ff" stroke="#0000ff" stroke-width="0.1">90</text>
<rect x="1119" y="144" width="4" height="1" fill="#808080"/>
<text x="1303.01" y="148.6" transform="scale(0.863,1)" font-size="12.5" fill="#0000ff" stroke="#0000ff" stroke-width="0.1">85</text>
<rect x="1119" y="172" width="4" height="1" fill="#808080"/>
<text x="1303.01" y="176.6" transform="scale(0.863,1)" font-size="12.5" fill="#0000ff" stroke="#0000ff" stroke-width="0.1">80</text>
<rect x="1119" y="200" width="4" height="1" fill="#808080"/>
<text x="1303.01" y="204.6" transform="scale(0.863,1)" font-size="12.5" fill="#0000ff" stroke="#0000ff" stroke-width="0.1">75</text>
<rect x="1119" y="227" width="4" height="1" fill="#808080"/>
<text x="1303.01" y="231.6" transform="scale(0.863,1)" font-size="12.5" fill="#0000ff" stroke="#0000ff" stroke-width="0.1">70</text>
<rect x="1119" y="254" width="4" height="1" fill="#808080"/>
<text x="1303.01" y="258.6" transform="scale(0.863,1)" font-size="12.5" fill="#0000ff" stroke="#0000ff" stroke-width="0.1">65</text>
<rect x="1119" y="282" width="4" height="1" fill="#808080"/>
<text x="1303.01" y="286.6" transform="scale(0.863,1)" font-size="12.5" fill="#0000ff" stroke="#0000ff" stroke-width="0.1">60</text>
<rect x="1119" y="310" width="4" height="1" fill="#808080"/>
<text x="1303.01" y="314.6" transform="scale(0.863,1)" font-size="12.5" fill="#0000ff" stroke="#0000ff" stroke-width="0.1">55</text>
<rect x="1119" y="337" width="4" height="1" fill="#808080"/>
<text x="1303.01" y="341.6" transform="scale(0.863,1)" font-size="12.5" fill="#0000ff" stroke="#0000ff" stroke-width="0.1">50</text>
<rect x="1119" y="364" width="4" height="1" fill="#808080"/>
<text x="1303.01" y="368.6" transform="scale(0.863,1)" font-size="12.5" fill="#0000ff" stroke="#0000ff" stroke-width="0.1">45</text>
<rect x="1119" y="392" width="4" height="1" fill="#808080"/>
<text x="1303.01" y="396.6" transform="scale(0.863,1)" font-size="12.5" fill="#0000ff" stroke="#0000ff" stroke-width="0.1">40</text>
<rect x="1119" y="420" width="4" height="1" fill="#808080"/>
<text x="1303.01" y="424.6" transform="scale(0.863,1)" font-size="12.5" fill="#0000ff" stroke="#0000ff" stroke-width="0.1">35</text>
<rect x="1119" y="447" width="4" height="1" fill="#808080"/>
<text x="1303.01" y="451.6" transform="scale(0.863,1)" font-size="12.5" fill="#0000ff" stroke="#0000ff" stroke-width="0.1">30</text>
<rect x="1119" y="474" width="4" height="1" fill="#808080"/>
<text x="1303.01" y="478.6" transform="scale(0.863,1)" font-size="12.5" fill="#0000ff" stroke="#0000ff" stroke-width="0.1">25</text>
<rect x="1119" y="502" width="4" height="1" fill="#808080"/>
<text x="1303.01" y="506.6" transform="scale(0.863,1)" font-size="12.5" fill="#0000ff" stroke="#0000ff" stroke-width="0.1">20</text>
<rect x="1119" y="530" width="4" height="1" fill="#808080"/>
<text x="1303.01" y="534.6" transform="scale(0.863,1)" font-size="12.5" fill="#0000ff" stroke="#0000ff" stroke-width="0.1">15</text>
<rect x="1119" y="557" width="4" height="1" fill="#808080"/>
<text x="1303.01" y="561.6" transform="scale(0.863,1)" font-size="12.5" fill="#0000ff" stroke="#0000ff" stroke-width="0.1">10</text>
<rect x="1119" y="584" width="4" height="1" fill="#808080"/>
<text x="1303.01" y="588.6" transform="scale(0.863,1)" font-size="12.5" fill="#0000ff" stroke="#0000ff" stroke-width="0.1">5</text>
<rect x="1119" y="612" width="4" height="1" fill="#808080"/>
<text x="1303.01" y="616.6" transform="scale(0.863,1)" font-size="12.5" fill="#0000ff" stroke="#0000ff" stroke-width="0.1">0</text>
<rect x="1155" y="62" width="1" height="551" fill="#808080"/>
<rect x="1151" y="62" width="8" height="1" fill="#808080"/>
<text x="1345.77" y="66.6" transform="scale(0.863,1)" font-size="12.5" fill="#00ffff" stroke="#00ffff" stroke-width="0.1">6.00</text>
<rect x="1156" y="108" width="4" height="1" fill="#808080"/>
<text x="1345.77" y="112.6" transform="scale(0.863,1)" font-size="12.5" fill="#00ffff" stroke="#00ffff" stroke-width="0.1">5.50</text>
<rect x="1156" y="154" width="4" height="1" fill="#808080"/>
<text x="1345.77" y="158.6" transform="scale(0.863,1)" font-size="12.5" fill="#00ffff" stroke="#00ffff" stroke-width="0.1">5.00</text>
<rect x="1156" y="200" width="4" height="1" fill="#808080"/>
<text x="1345.77" y="204.6" transform="scale(0.863,1)" font-size="12.5" fill="#00ffff" stroke="#00ffff" stroke-width="0.1">4.50</text>
<rect x="1156" y="245" width="4" height="1" fill="#808080"/>
<text x="1345.77" y="249.6" transform="scale(0.863,1)" font-size="12.5" fill="#00ffff" stroke="#00ffff" stroke-width="0.1">4.00</text>
<rect x="1156" y="291" width="4" height="1" fill="#808080"/>
<text x="1345.77" y="295.6" transform="scale(0.863,1)" font-size="12.5" fill="#00ffff" stroke="#00ffff" stroke-width="0.1">3.50</text>
<rect x="1156" y="337" width="4" height="1" fill="#808080"/>
<text x="1345.77" y="341.6" transform="scale(0.863,1)" font-size="12.5" fill="#00ffff" stroke="#00ffff" stroke-width="0.1">3.00</text>
<rect x="1156" y="383" width="4" height="1" fill="#808080"/>
<text x="1345.77" y="387.6" transform="scale(0.863,1)" font-size="12.5" fill="#00ffff" stroke="#00ffff" stroke-width="0.1">2.50</text>
<rect x="1156" y="429" width="4" height="1" fill="#808080"/>
<text x="1345.77" y="433.6" transform="scale(0.863,1)" font-size="12.5" fill="#00ffff" stroke="#00ffff" stroke-width="0.1">2.00</text>
<rect x="1156" y="474" width="4" height="1" fill="#808080"/>
<text x="1345.77" y="478.6" transform="scale(0.863,1)" font-size="12.5" fill="#00ffff" stroke="#00ffff" stroke-width="0.1">1.50</text>
<rect x="1156" y="520" width="4" height="1" fill="#808080"/>
<text x="1345.77" y="524.6" transform="scale(0.863,1)" font-size="12.5" fill="#00ffff" stroke="#00ffff" stroke-width="0.1">1.00</text>
<rect x="1156" y="566" width="4" height="1" fill="#808080"/>
<text x="1345.77" y="570.6" transform="scale(0.863,1)" font-size="12.5" fill="#00ffff" stroke="#00ffff" stroke-width="0.1">0.50</text>
<rect x="1151" y="612" width="8" height="1" fill="#808080"/>
<text x="1345.77" y="616.6" transform="scale(0.863,1)" font-size="12.5" fill="#00ffff" stroke="#00ffff" stroke-width="0.1">0.00</text>
<rect x="1192" y="62" width="1" height="551" fill="#808080"/>
<rect x="1188" y="62" width="8" height="1" fill="#808080"/>
<text x="1388.76" y="66.6" transform="scale(0.863,1)" font-size="12.5" fill="#808080" stroke="#808080" stroke-width="0.1">360</text>
<text x="1413.67" y="66.6" transform="scale(0.863,1)" font-size="12.5" fill="#808080" stroke="#808080" stroke-width="0.1">N</text>
<rect x="1193" y="108" width="4" height="1" fill="#808080"/>
<text x="1388.76" y="112.6" transform="scale(0.863,1)" font-size="12.5" fill="#808080" stroke="#808080" stroke-width="0.1">330</text>
<rect x="1193" y="154" width="4" height="1" fill="#808080"/>
<text x="1388.76" y="158.6" transform="scale(0.863,1)" font-size="12.5" fill="#808080" stroke="#808080" stroke-width="0.1">300</text>
<rect x="1193" y="200" width="4" height="1" fill="#808080"/>
<text x="1388.76" y="204.6" transform="scale(0.863,1)" font-size="12.5" fill="#808080" stroke="#808080" stroke-width="0.1">270</text>
<text x="1413.67" y="204.6" transform="scale(0.863,1)" font-size="12.5" fill="#808080" stroke="#808080" stroke-width="0.1">W</text>
<rect x="1193" y="245" width="4" height="1" fill="#808080"/>
<text x="1388.76" y="249.6" transform="scale(0.863,1)" font-size="12.5" fill="#808080" stroke="#808080" stroke-width="0.1">240</text>
<rect x="1193" y="291" width="4" height="1" fill="#808080"/>
<text x="1388.76" y="295.6" transform="scale(0.863,1)" font-size="12.5" fill="#808080" stroke="#808080" stroke-width="0.1">210</text>
<rect x="1193" y="337" width="4" height="1" fill="#808080"/>
<text x="1388.76" y="341.6" transform="scale(0.863,1)" font-size="12.5" fill="#808080" stroke="#808080" stroke-width="0.1">180</text>
<text x="1413.67" y="341.6" transform="scale(0.863,1)" font-size="12.5" fill="#808080" stroke="#808080" stroke-width="0.1">S</text>
<rect x="1193" y="383" width="4" height="1" fill="#808080"/>
<text x="1388.76" y="387.6" transform="scale(0.863,1)" font-size="12.5" fill="#808080" stroke="#808080" stroke-width="0.1">150</text>
<rect x="1193" y="429" width="4" height="1" fill="#808080"/>
<text x="1388.76" y="433.6" transform="scale(0.863,1)" font-size="12.5" fill="#808080" stroke="#808080" stroke-width="0.1">120</text>
<rect x="1193" y="474" width="4" height="1" fill="#808080"/>
<text x="1388.76" y="478.6" transform="scale(0.863,1)" font-size="12.5" fill="#808080" stroke="#808080" stroke-width="0.1">90</text>
<text x="1410.20" y="478.6" transform="scale(0.863,1)" font-size="12.5" fill="#808080" stroke="#808080" stroke-width="0.1">O</text>
<rect x="1193" y="520" width="4" height="1" fill="#808080"/>
<text x="1388.76" y="524.6" transform="scale(0.863,1)" font-size="12.5" fill="#808080" stroke="#808080" stroke-width="0.1">60</text>
<rect x="1193" y="566" width="4" height="1" fill="#808080"/>
<text x="1388.76" y="570.6" transform="scale(0.863,1)" font-size="12.5" fill="#808080" stroke="#808080" stroke-width="0.1">30</text>
<rect x="1188" y="612" width="8" height="1" fill="#808080"/>
<text x="1388.76" y="616.6" transform="scale(0.863,1)" font-size="12.5" fill="#808080" stroke="#808080" stroke-width="0.1">0</text>
<text x="1410.20" y="616.6" transform="scale(0.863,1)" font-size="12.5" fill="#808080" stroke="#808080" stroke-width="0.1">N</text>
<rect x="1229" y="62" width="1" height="551" fill="#808080"/>
<rect x="1225" y="62" width="8" height="1" fill="#808080"/>
<text x="1431.52" y="66.6" transform="scale(0.863,1)" font-size="12.5" fill="#3399ff" stroke="#3399ff" stroke-width="0.1">90</text>
<rect x="1230" y="93" width="4" height="1" fill="#808080"/>
<text x="1431.52" y="97.6" transform="scale(0.863,1)" font-size="12.5" fill="#3399ff" stroke="#3399ff" stroke-width="0.1">85</text>
<rect x="1230" y="123" width="4" height="1" fill="#808080"/>
<text x="1431.52" y="127.6" transform="scale(0.863,1)" font-size="12.5" fill="#3399ff" stroke="#3399ff" stroke-width="0.1">80</text>
<rect x="1230" y="154" width="4" height="1" fill="#808080"/>
<text x="1431.52" y="158.6" transform="scale(0.863,1)" font-size="12.5" fill="#3399ff" stroke="#3399ff" stroke-width="0.1">75</text>
<rect x="1230" y="184" width="4" height="1" fill="#808080"/>
<text x="1431.52" y="188.6" transform="scale(0.863,1)" font-size="12.5" fill="#3399ff" stroke="#3399ff" stroke-width="0.1">70</text>
<rect x="1230" y="215" width="4" height="1" fill="#808080"/>
<text x="1431.52" y="219.6" transform="scale(0.863,1)" font-size="12.5" fill="#3399ff" stroke="#3399ff" stroke-width="0.1">65</text>
<rect x="1230" y="245" width="4" height="1" fill="#808080"/>
<text x="1431.52" y="249.6" transform="scale(0.863,1)" font-size="12.5" fill="#3399ff" stroke="#3399ff" stroke-width="0.1">60</text>
<rect x="1230" y="276" width="4" height="1" fill="#808080"/>
<text x="1431.52" y="280.6" transform="scale(0.863,1)" font-size="12.5" fill="#3399ff" stroke="#3399ff" stroke-width="0.1">55</text>
<rect x="1230" y="306" width="4" height="1" fill="#808080"/>
<text x="1431.52" y="310.6" transform="scale(0.863,1)" font-size="12.5" fill="#3399ff" stroke="#3399ff" stroke-width="0.1">50</text>
<rect x="1230" y="337" width="4" height="1" fill="#808080"/>
<text x="1431.52" y="341.6" transform="scale(0.863,1)" font-size="12.5" fill="#3399ff" stroke="#3399ff" stroke-width="0.1">45</text>
<rect x="1230" y="368" width="4" height="1" fill="#808080"/>
<text x="1431.52" y="372.6" transform="scale(0.863,1)" font-size="12.5" fill="#3399ff" stroke="#3399ff" stroke-width="0.1">40</text>
<rect x="1230" y="398" width="4" height="1" fill="#808080"/>
<text x="1431.52" y="402.6" transform="scale(0.863,1)" font-size="12.5" fill="#3399ff" stroke="#3399ff" stroke-width="0.1">35</text>
<rect x="1230" y="429" width="4" height="1" fill="#808080"/>
<text x="1431.52" y="433.6" transform="scale(0.863,1)" font-size="12.5" fill="#3399ff" stroke="#3399ff" stroke-width="0.1">30</text>
<rect x="1230" y="459" width="4" height="1" fill="#808080"/>
<text x="1431.52" y="463.6" transform="scale(0.863,1)" font-size="12.5" fill="#3399ff" stroke="#3399ff" stroke-width="0.1">25</text>
<rect x="1230" y="490" width="4" height="1" fill="#808080"/>
<text x="1431.52" y="494.6" transform="scale(0.863,1)" font-size="12.5" fill="#3399ff" stroke="#3399ff" stroke-width="0.1">20</text>
<rect x="1230" y="520" width="4" height="1" fill="#808080"/>
<text x="1431.52" y="524.6" transform="scale(0.863,1)" font-size="12.5" fill="#3399ff" stroke="#3399ff" stroke-width="0.1">15</text>
<rect x="1230" y="551" width="4" height="1" fill="#808080"/>
<text x="1431.52" y="555.6" transform="scale(0.863,1)" font-size="12.5" fill="#3399ff" stroke="#3399ff" stroke-width="0.1">10</text>
<rect x="1230" y="581" width="4" height="1" fill="#808080"/>
<text x="1431.52" y="585.6" transform="scale(0.863,1)" font-size="12.5" fill="#3399ff" stroke="#3399ff" stroke-width="0.1">5</text>
<rect x="1225" y="612" width="8" height="1" fill="#808080"/>
<text x="1431.52" y="616.6" transform="scale(0.863,1)" font-size="12.5" fill="#3399ff" stroke="#3399ff" stroke-width="0.1">0</text>
<rect x="188" y="613" width="1" height="4" fill="#808080"/>
<text x="218.42" y="631" transform="scale(0.863,1)" font-size="12.5" fill="#000" stroke="#000" stroke-width="0.1" text-anchor="middle">00:00</text>
<rect x="227" y="613" width="1" height="4" fill="#808080"/>
<text x="263.62" y="631" transform="scale(0.863,1)" font-size="12.5" fill="#000" stroke="#000" stroke-width="0.1" text-anchor="middle">01:00</text>
<rect x="266" y="613" width="1" height="4" fill="#808080"/>
<text x="308.81" y="631" transform="scale(0.863,1)" font-size="12.5" fill="#000" stroke="#000" stroke-width="0.1" text-anchor="middle">02:00</text>
<rect x="304" y="613" width="1" height="4" fill="#808080"/>
<text x="352.84" y="631" transform="scale(0.863,1)" font-size="12.5" fill="#000" stroke="#000" stroke-width="0.1" text-anchor="middle">03:00</text>
<rect x="343" y="613" width="1" height="4" fill="#808080"/>
<text x="398.03" y="631" transform="scale(0.863,1)" font-size="12.5" fill="#000" stroke="#000" stroke-width="0.1" text-anchor="middle">04:00</text>
<rect x="382" y="613" width="1" height="4" fill="#808080"/>
<text x="443.22" y="631" transform="scale(0.863,1)" font-size="12.5" fill="#000" stroke="#000" stroke-width="0.1" text-anchor="middle">05:00</text>
<rect x="420" y="613" width="1" height="4" fill="#808080"/>
<text x="487.25" y="631" transform="scale(0.863,1)" font-size="12.5" fill="#000" stroke="#000" stroke-width="0.1" text-anchor="middle">06:00</text>
<rect x="459" y="613" width="1" height="4" fill="#808080"/>
<text x="532.44" y="631" transform="scale(0.863,1)" font-size="12.5" fill="#000" stroke="#000" stroke-width="0.1" text-anchor="middle">07:00</text>
<rect x="498" y="613" width="1" height="4" fill="#808080"/>
<text x="577.64" y="631" transform="scale(0.863,1)" font-size="12.5" fill="#000" stroke="#000" stroke-width="0.1" text-anchor="middle">08:00</text>
<rect x="537" y="613" width="1" height="4" fill="#808080"/>
<text x="622.83" y="631" transform="scale(0.863,1)" font-size="12.5" fill="#000" stroke="#000" stroke-width="0.1" text-anchor="middle">09:00</text>
<rect x="576" y="613" width="1" height="4" fill="#808080"/>
<text x="668.02" y="631" transform="scale(0.863,1)" font-size="12.5" fill="#000" stroke="#000" stroke-width="0.1" text-anchor="middle">10:00</text>
<rect x="614" y="613" width="1" height="4" fill="#808080"/>
<text x="712.05" y="631" transform="scale(0.863,1)" font-size="12.5" fill="#000" stroke="#000" stroke-width="0.1" text-anchor="middle">11:00</text>
<rect x="653" y="613" width="1" height="4" fill="#808080"/>
<text x="757.24" y="631" transform="scale(0.863,1)" font-size="12.5" fill="#000" stroke="#000" stroke-width="0.1" text-anchor="middle">12:00</text>
<rect x="692" y="613" width="1" height="4" fill="#808080"/>
<text x="802.43" y="631" transform="scale(0.863,1)" font-size="12.5" fill="#000" stroke="#000" stroke-width="0.1" text-anchor="middle">13:00</text>
<rect x="730" y="613" width="1" height="4" fill="#808080"/>
<text x="846.47" y="631" transform="scale(0.863,1)" font-size="12.5" fill="#000" stroke="#000" stroke-width="0.1" text-anchor="middle">14:00</text>
<rect x="769" y="613" width="1" height="4" fill="#808080"/>
<text x="891.66" y="631" transform="scale(0.863,1)" font-size="12.5" fill="#000" stroke="#000" stroke-width="0.1" text-anchor="middle">15:00</text>
<rect x="808" y="613" width="1" height="4" fill="#808080"/>
<text x="936.85" y="631" transform="scale(0.863,1)" font-size="12.5" fill="#000" stroke="#000" stroke-width="0.1" text-anchor="middle">16:00</text>
<rect x="847" y="613" width="1" height="4" fill="#808080"/>
<text x="982.04" y="631" transform="scale(0.863,1)" font-size="12.5" fill="#000" stroke="#000" stroke-width="0.1" text-anchor="middle">17:00</text>
<rect x="886" y="613" width="1" height="4" fill="#808080"/>
<text x="1027.23" y="631" transform="scale(0.863,1)" font-size="12.5" fill="#000" stroke="#000" stroke-width="0.1" text-anchor="middle">18:00</text>
<rect x="924" y="613" width="1" height="4" fill="#808080"/>
<text x="1071.26" y="631" transform="scale(0.863,1)" font-size="12.5" fill="#000" stroke="#000" stroke-width="0.1" text-anchor="middle">19:00</text>
<rect x="963" y="613" width="1" height="4" fill="#808080"/>
<text x="1116.45" y="631" transform="scale(0.863,1)" font-size="12.5" fill="#000" stroke="#000" stroke-width="0.1" text-anchor="middle">20:00</text>
<rect x="1002" y="613" width="1" height="4" fill="#808080"/>
<text x="1161.65" y="631" transform="scale(0.863,1)" font-size="12.5" fill="#000" stroke="#000" stroke-width="0.1" text-anchor="middle">21:00</text>
<rect x="1040" y="613" width="1" height="4" fill="#808080"/>
<text x="1205.68" y="631" transform="scale(0.863,1)" font-size="12.5" fill="#000" stroke="#000" stroke-width="0.1" text-anchor="middle">22:00</text>
<rect x="1079" y="613" width="1" height="4" fill="#808080"/>
<text x="1250.87" y="631" transform="scale(0.863,1)" font-size="12.5" fill="#000" stroke="#000" stroke-width="0.1" text-anchor="middle">23:00</text>
<rect x="1118" y="613" width="1" height="4" fill="#808080"/>
<text x="1296.06" y="631" transform="scale(0.863,1)" font-size="12.5" fill="#000" stroke="#000" stroke-width="0.1" text-anchor="middle">24:00</text>
<text x="12.17" y="642" transform="scale(0.863,1)" font-size="12.5" fill="#000" stroke="#000" stroke-width="0.1">07:58</text>
<rect x="43" y="635" width="3" height="1" fill="#ffff00"/>
<rect x="41" y="636" width="7" height="2" fill="#ffff00"/>
<rect x="40" y="638" width="9" height="3" fill="#ffff00"/>
<text x="587.49" y="642" transform="scale(0.863,1)" font-size="12.5" fill="#000" stroke="#000" stroke-width="0.1" text-anchor="end">08:25</text>
<circle cx="514" cy="638" r="4.9" fill="none" stroke="#ffffa0" stroke-width="1.3"/>
<circle cx="514" cy="638" r="3.1" fill="#ffff00"/>
<text x="946.12" y="642" transform="scale(0.863,1)" font-size="12.5" fill="#000" stroke="#000" stroke-width="0.1" text-anchor="end">16:23</text>
<rect x="820.5" y="635.5" width="5" height="5" rx="1.5" fill="none" stroke="#ffff00" stroke-width="1"/>
<rect x="1" y="652" width="1270" height="72" fill="#e3fbcf"/>
<rect x="1271" y="652" width="1" height="72" fill="#a8a8a8"/>
<rect x="87" y="652" width="1" height="72" fill="#ffffff"/>
<rect x="88" y="652" width="1" height="72" fill="#a0a0a0"/>
<rect x="204" y="652" width="1" height="72" fill="#ffffff"/>
<rect x="205" y="652" width="1" height="72" fill="#a0a0a0"/>
<rect x="322" y="652" width="1" height="72" fill="#ffffff"/>
<rect x="323" y="652" width="1" height="72" fill="#a0a0a0"/>
<rect x="440" y="652" width="1" height="72" fill="#ffffff"/>
<rect x="441" y="652" width="1" height="72" fill="#a0a0a0"/>
<rect x="558" y="652" width="1" height="72" fill="#ffffff"/>
<rect x="559" y="652" width="1" height="72" fill="#a0a0a0"/>
<rect x="676" y="652" width="1" height="72" fill="#ffffff"/>
<rect x="677" y="652" width="1" height="72" fill="#a0a0a0"/>
<rect x="794" y="652" width="1" height="72" fill="#ffffff"/>
<rect x="795" y="652" width="1" height="72" fill="#a0a0a0"/>
<rect x="912" y="652" width="1" height="72" fill="#ffffff"/>
<rect x="913" y="652" width="1" height="72" fill="#a0a0a0"/>
<text x="10.43" y="670" transform="scale(0.863,1)" font-size="12.5" fill="#000" stroke="#000" stroke-width="0.1" font-weight="bold" letter-spacing="0.45">Sensor</text>
<text x="10.43" y="686" transform="scale(0.863,1)" font-size="12.5" fill="#000" stroke="#000" stroke-width="0.1" font-weight="bold" letter-spacing="0.45">MinWert</text>
<text x="10.43" y="702" transform="scale(0.863,1)" font-size="12.5" fill="#000" stroke="#000" stroke-width="0.1" font-weight="bold" letter-spacing="0.45">MaxWert</text>
<text x="10.43" y="718" transform="scale(0.863,1)" font-size="12.5" fill="#000" stroke="#000" stroke-width="0.1" font-weight="bold" letter-spacing="0.45">Durchschnitt</text>
<text x="108.92" y="670" transform="scale(0.863,1)" font-size="12.5" fill="#000" stroke="#000" stroke-width="0.1" font-weight="bold" letter-spacing="0.45">Außen</text>
<text x="229.43" y="670" transform="scale(0.863,1)" font-size="12.5" fill="#000" stroke="#000" stroke-width="0.1" text-anchor="end" font-weight="bold" letter-spacing="0.45">°C</text>
<text x="117.03" y="686" transform="scale(0.863,1)" font-size="12.5" fill="#000" stroke="#000" stroke-width="0.1">00:30</text>
<text x="229.43" y="686" transform="scale(0.863,1)" font-size="12.5" fill="#000" stroke="#000" stroke-width="0.1" text-anchor="end">3.6</text>
<text x="117.03" y="702" transform="scale(0.863,1)" font-size="12.5" fill="#000" stroke="#000" stroke-width="0.1">13:15</text>
<text x="229.43" y="702" transform="scale(0.863,1)" font-size="12.5" fill="#000" stroke="#000" stroke-width="0.1" text-anchor="end">7.3</text>
<text x="117.03" y="718" transform="scale(0.863,1)" font-size="12.5" fill="#000" stroke="#000" stroke-width="0.1">(+ 4.31 )</text>
<text x="229.43" y="718" transform="scale(0.863,1)" font-size="12.5" fill="#000" stroke="#000" stroke-width="0.1" text-anchor="end">5.65</text>
<text x="246.81" y="670" transform="scale(0.863,1)" font-size="12.5" fill="#000" stroke="#000" stroke-width="0.1" font-weight="bold" letter-spacing="0.45">Feuchte</text>
<text x="366.16" y="670" transform="scale(0.863,1)" font-size="12.5" fill="#000" stroke="#000" stroke-width="0.1" text-anchor="end" font-weight="bold" letter-spacing="0.45">%</text>
<text x="253.77" y="686" transform="scale(0.863,1)" font-size="12.5" fill="#000" stroke="#000" stroke-width="0.1">22:15</text>
<text x="366.16" y="686" transform="scale(0.863,1)" font-size="12.5" fill="#000" stroke="#000" stroke-width="0.1" text-anchor="end">77</text>
<text x="253.77" y="702" transform="scale(0.863,1)" font-size="12.5" fill="#000" stroke="#000" stroke-width="0.1">06:00</text>
<text x="366.16" y="702" transform="scale(0.863,1)" font-size="12.5" fill="#000" stroke="#000" stroke-width="0.1" text-anchor="end">90</text>
<text x="366.16" y="718" transform="scale(0.863,1)" font-size="12.5" fill="#000" stroke="#000" stroke-width="0.1" text-anchor="end">86</text>
<text x="383.55" y="670" transform="scale(0.863,1)" font-size="12.5" fill="#000" stroke="#000" stroke-width="0.1" font-weight="bold" letter-spacing="0.45">Luftdruck</text>
<text x="502.90" y="670" transform="scale(0.863,1)" font-size="12.5" fill="#000" stroke="#000" stroke-width="0.1" text-anchor="end" font-weight="bold" letter-spacing="0.45">hPa</text>
<text x="390.50" y="686" transform="scale(0.863,1)" font-size="12.5" fill="#000" stroke="#000" stroke-width="0.1">13:15</text>
<text x="502.90" y="686" transform="scale(0.863,1)" font-size="12.5" fill="#000" stroke="#000" stroke-width="0.1" text-anchor="end">1001.0</text>
<text x="390.50" y="702" transform="scale(0.863,1)" font-size="12.5" fill="#000" stroke="#000" stroke-width="0.1">00:30</text>
<text x="502.90" y="702" transform="scale(0.863,1)" font-size="12.5" fill="#000" stroke="#000" stroke-width="0.1" text-anchor="end">1006.5</text>
<text x="383.55" y="718" transform="scale(0.863,1)" font-size="12.5" fill="#000" stroke="#000" stroke-width="0.1">^1.1hPa/h</text>
<text x="502.90" y="718" transform="scale(0.863,1)" font-size="12.5" fill="#000" stroke="#000" stroke-width="0.1" text-anchor="end">1002.7</text>
<text x="520.28" y="670" transform="scale(0.863,1)" font-size="12.5" fill="#000" stroke="#000" stroke-width="0.1" font-weight="bold" letter-spacing="0.45">Wind</text>
<text x="639.63" y="670" transform="scale(0.863,1)" font-size="12.5" fill="#000" stroke="#000" stroke-width="0.1" text-anchor="end" font-weight="bold" letter-spacing="0.45">km/h</text>
<text x="520.28" y="686" transform="scale(0.863,1)" font-size="12.5" fill="#000" stroke="#000" stroke-width="0.1">Ø 10 min.</text>
<text x="639.63" y="686" transform="scale(0.863,1)" font-size="12.5" fill="#000" stroke="#000" stroke-width="0.1" text-anchor="end">11.9</text>
<text x="527.23" y="702" transform="scale(0.863,1)" font-size="12.5" fill="#000" stroke="#000" stroke-width="0.1">09:45</text>
<text x="639.63" y="702" transform="scale(0.863,1)" font-size="12.5" fill="#000" stroke="#000" stroke-width="0.1" text-anchor="end">SW 27.9</text>
<text x="527.23" y="718" transform="scale(0.863,1)" font-size="12.5" fill="#000" stroke="#000" stroke-width="0.1">315.6 km</text>
<text x="639.63" y="718" transform="scale(0.863,1)" font-size="12.5" fill="#000" stroke="#000" stroke-width="0.1" text-anchor="end">13.1</text>
<text x="657.01" y="670" transform="scale(0.863,1)" font-size="12.5" fill="#000" stroke="#000" stroke-width="0.1" font-weight="bold" letter-spacing="0.45">Richtung</text>
<text x="663.96" y="686" transform="scale(0.863,1)" font-size="12.5" fill="#000" stroke="#000" stroke-width="0.1">16:45</text>
<text x="776.36" y="686" transform="scale(0.863,1)" font-size="12.5" fill="#000" stroke="#000" stroke-width="0.1" text-anchor="end">O</text>
<text x="663.96" y="702" transform="scale(0.863,1)" font-size="12.5" fill="#000" stroke="#000" stroke-width="0.1">00:00</text>
<text x="776.36" y="702" transform="scale(0.863,1)" font-size="12.5" fill="#000" stroke="#000" stroke-width="0.1" text-anchor="end">W</text>
<text x="776.36" y="718" transform="scale(0.863,1)" font-size="12.5" fill="#000" stroke="#000" stroke-width="0.1" text-anchor="end">SW</text>
<text x="793.74" y="670" transform="scale(0.863,1)" font-size="12.5" fill="#000" stroke="#000" stroke-width="0.1">Regen/1h</text>
<text x="914.25" y="670" transform="scale(0.863,1)" font-size="12.5" fill="#000" stroke="#000" stroke-width="0.1" text-anchor="end">0.00l/m²</text>
<text x="793.74" y="686" transform="scale(0.863,1)" font-size="12.5" fill="#000" stroke="#000" stroke-width="0.1">Regen/Tag</text>
<text x="914.25" y="686" transform="scale(0.863,1)" font-size="12.5" fill="#000" stroke="#000" stroke-width="0.1" text-anchor="end">1.49l/m²</text>
<text x="793.74" y="702" transform="scale(0.863,1)" font-size="12.5" fill="#000" stroke="#000" stroke-width="0.1">Neumond</text>
<text x="914.25" y="702" transform="scale(0.863,1)" font-size="12.5" fill="#000" stroke="#000" stroke-width="0.1" text-anchor="end">11.01.24</text>
<text x="793.74" y="718" transform="scale(0.863,1)" font-size="12.5" fill="#000" stroke="#000" stroke-width="0.1">Vollmond</text>
<text x="914.25" y="718" transform="scale(0.863,1)" font-size="12.5" fill="#000" stroke="#000" stroke-width="0.1" text-anchor="end">25.01.24</text>
<text x="930.48" y="670" transform="scale(0.863,1)" font-size="12.5" fill="#000" stroke="#000" stroke-width="0.1">Wolkenunterg</text>
<text x="1049.83" y="670" transform="scale(0.863,1)" font-size="12.5" fill="#000" stroke="#000" stroke-width="0.1" text-anchor="end">571m</text>
<text x="930.48" y="686" transform="scale(0.863,1)" font-size="12.5" fill="#000" stroke="#000" stroke-width="0.1">Sichtweite</text>
<text x="1049.83" y="686" transform="scale(0.863,1)" font-size="12.5" fill="#000" stroke="#000" stroke-width="0.1" text-anchor="end">6-12km</text>
<text x="930.48" y="702" transform="scale(0.863,1)" font-size="12.5" fill="#000" stroke="#000" stroke-width="0.1">Schneefallgr</text>
<text x="1049.83" y="702" transform="scale(0.863,1)" font-size="12.5" fill="#000" stroke="#000" stroke-width="0.1" text-anchor="end">790m</text>
<text x="930.48" y="718" transform="scale(0.863,1)" font-size="12.5" fill="#000" stroke="#000" stroke-width="0.1">Schneehöhe</text>
<text x="1049.83" y="718" transform="scale(0.863,1)" font-size="12.5" fill="#000" stroke="#000" stroke-width="0.1" text-anchor="end">0cm</text>
<text x="1067.21" y="670" transform="scale(0.863,1)" font-size="12.5" fill="#000" stroke="#000" stroke-width="0.1" font-weight="bold" letter-spacing="0.45">Solar</text>
<text x="1183.08" y="670" transform="scale(0.863,1)" font-size="12.5" fill="#000" stroke="#000" stroke-width="0.1" text-anchor="end" font-weight="bold" letter-spacing="0.45">W/m²</text>
<text x="1067.21" y="686" transform="scale(0.863,1)" font-size="12.5" fill="#000" stroke="#000" stroke-width="0.1">Elevation</text>
<text x="1184.24" y="686" transform="scale(0.863,1)" font-size="12.5" fill="#000" stroke="#000" stroke-width="0.1" text-anchor="end">-59.884</text>
<text x="1074.16" y="702" transform="scale(0.863,1)" font-size="12.5" fill="#000" stroke="#000" stroke-width="0.1">13:15</text>
<text x="1184.24" y="702" transform="scale(0.863,1)" font-size="12.5" fill="#000" stroke="#000" stroke-width="0.1" text-anchor="end">54</text>
<text x="1067.21" y="718" transform="scale(0.863,1)" font-size="12.5" fill="#000" stroke="#000" stroke-width="0.1">Tag:0 min.</text>
<text x="1184.24" y="718" transform="scale(0.863,1)" font-size="12.5" fill="#000" stroke="#000" stroke-width="0.1" text-anchor="end">24</text>
</svg></body></html>
